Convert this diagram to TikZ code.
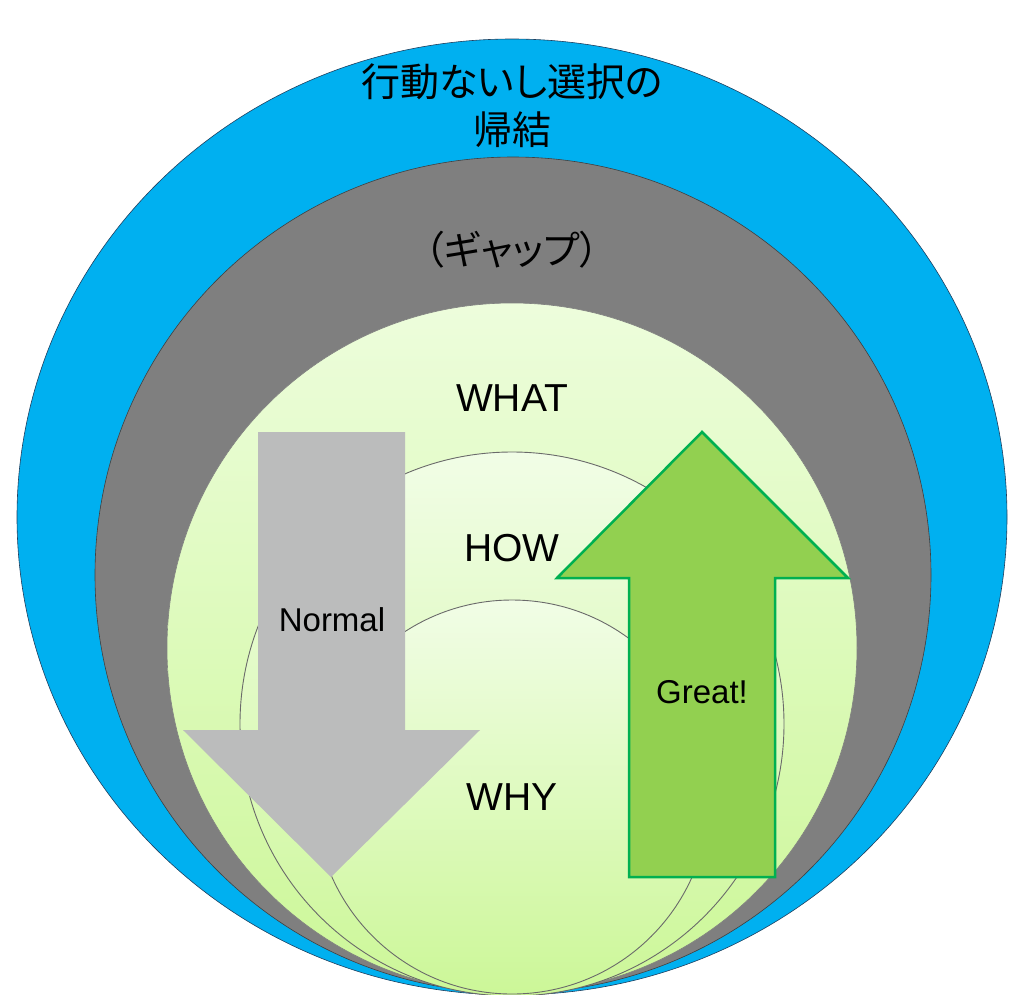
\documentclass[tikz,border=0pt]{standalone}
\usepackage{fontspec}
\setmainfont{Liberation Sans}
\newfontfamily\jpfont[RawFeature=+palt]{Noto Sans CJK JP}
\definecolor{skyblue}{HTML}{00B0F0}
\definecolor{navyline}{HTML}{1F3F5F}
\definecolor{midgray}{HTML}{7F7F7F}
\definecolor{darkline}{HTML}{404040}
\definecolor{paletop}{HTML}{EDFDDC}
\definecolor{palebot}{HTML}{CCF798}
\definecolor{innertop}{HTML}{F1FDE6}
\definecolor{ringline}{HTML}{6A6A6A}
\definecolor{arrowgray}{HTML}{BBBCBC}
\definecolor{leaf}{HTML}{92D050}
\definecolor{leafline}{HTML}{00B050}
\tikzset{
  ring/.style={line width=0.6pt},
  innerring/.style={line width=0.9pt, draw=ringline, top color=innertop, bottom color=palebot},
  word/.style={inner sep=0pt, font=\fontsize{39}{44}\selectfont},
  arrowword/.style={inner sep=0pt, font=\fontsize{33}{38}\selectfont},
  jpword/.style={inner sep=0pt, align=center, font=\jpfont\fontsize{39}{48}\selectfont}
}
\begin{document}
\begin{tikzpicture}[x=1pt,y=-1pt]
\useasboundingbox (0,0) rectangle (1015,994);
% outer ellipse
\draw[ring, draw=navyline, fill=skyblue] (512,517) ellipse [x radius=495, y radius=478];
% gray circle
\draw[ring, draw=darkline, fill=midgray] (513,575) circle [radius=418];
% pale green circle
\draw[ring, draw=gray, top color=paletop, bottom color=palebot] (512,648) circle [radius=345];
% HOW circle
\draw[innerring] (512,724) circle [radius=272];
% WHY circle
\draw[innerring] (512,797) circle [radius=197];
% gray down arrow
\fill[arrowgray] (258,432) -- (405,432) -- (405,730) -- (480,730) -- (331,877) -- (183,730) -- (258,730) -- cycle;
% green up arrow
\draw[line width=2.5pt, draw=leafline, fill=leaf, line join=miter] (702,432) -- (848,578) -- (775,578) -- (775,877) -- (629,877) -- (629,578) -- (557,578) -- cycle;
% texts
\node[jpword] (result) at (512,106) {行動ないし選択の\\帰結};
\node[jpword] (gap) at (512,250) {（ギャップ）};
\node[word] (what) at (512,398) {WHAT};
\node[word] (how) at (512,548) {HOW};
\node[word] (why) at (512,797) {WHY};
\node[arrowword] (normal) at (332,620) {Normal};
\node[arrowword] (great) at (702,692) {Great!};
\end{tikzpicture}
\end{document}
